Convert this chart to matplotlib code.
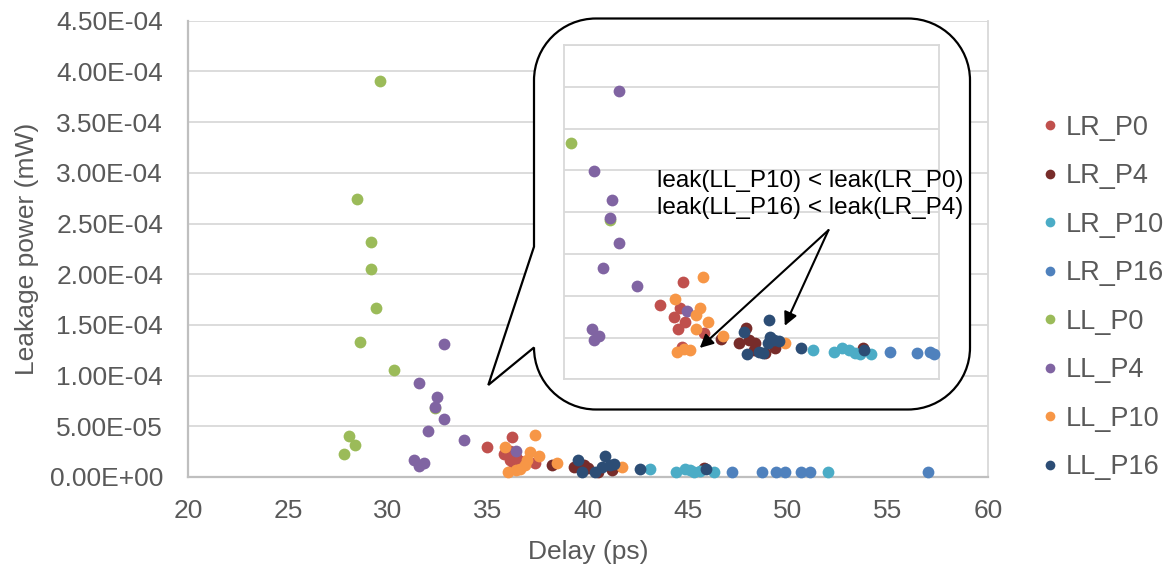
import numpy as np
import matplotlib as mpl
mpl.use('Agg')
from matplotlib import pyplot as plt
from matplotlib.path import Path
from matplotlib.patches import PathPatch
from matplotlib.lines import Line2D

plt.rcParams['font.family'] = ['Liberation Sans', 'DejaVu Sans']

series = ['LR_P0', 'LR_P4', 'LR_P10', 'LR_P16', 'LL_P0', 'LL_P4', 'LL_P10', 'LL_P16']
colors = ['#c0504d', '#772c2a', '#4bacc6', '#4f81bd', '#9bbb59', '#8064a2', '#f79646', '#2c4d75']

# main chart: delay (ps) / leakage power (mW)
lr_p0_x = [34.97, 36.2, 35.8, 36.1, 36.4, 36.3, 37.35, 36.6, 36.1]
lr_p0_y = [2.99e-5, 3.9e-5, 2.3e-5, 1.7e-5, 2.0e-5, 1.1e-5, 1.35e-5, 1.6e-5, 2.6e-5]
lr_p4_x = [38.2, 39.3, 39.8, 40.0, 40.5, 41.2, 41.3, 45.8]
lr_p4_y = [1.2e-5, 1.0e-5, 1.2e-5, 9e-6, 5e-6, 7e-6, 1.0e-5, 8.5e-6]
lr_p10_x = [43.1, 44.4, 44.85, 45.1, 45.3, 45.6, 46.3, 52.0]
lr_p10_y = [7.6e-6, 5.2e-6, 7.6e-6, 6.9e-6, 5.2e-6, 6.0e-6, 5.2e-6, 5.2e-6]
lr_p16_x = [47.2, 48.7, 49.4, 49.85, 50.65, 51.1, 57.0]
lr_p16_y = [5.2e-6, 5.2e-6, 5.2e-6, 5.2e-6, 5.2e-6, 5.2e-6, 5.2e-6]
ll_p0_x = [29.6, 28.47, 29.15, 29.15, 29.4, 28.6, 30.3, 32.35, 28.03, 28.37, 27.8]
ll_p0_y = [3.905e-4, 2.74e-4, 2.315e-4, 2.05e-4, 1.664e-4, 1.328e-4, 1.055e-4, 6.77e-5, 4.07e-5, 3.16e-5, 2.27e-5]
ll_p4_x = [32.8, 31.55, 32.45, 32.35, 32.8, 32.0, 33.8, 31.3, 31.8, 31.55, 36.4]
ll_p4_y = [1.309e-4, 9.24e-5, 7.92e-5, 6.93e-5, 5.69e-5, 4.54e-5, 3.65e-5, 1.68e-5, 1.41e-5, 1.11e-5, 2.56e-5]
ll_p10_x = [37.35, 35.85, 37.1, 37.57, 36.93, 36.85, 36.0, 36.4, 36.6, 38.47, 41.68]
ll_p10_y = [4.14e-5, 2.99e-5, 2.5e-5, 2.07e-5, 1.68e-5, 1.18e-5, 5.2e-6, 6.9e-6, 7.6e-6, 1.35e-5, 9.5e-6]
ll_p16_x = [39.5, 39.7, 40.35, 40.7, 40.85, 41.1, 41.3, 42.6, 45.9]
ll_p16_y = [1.7e-5, 5e-6, 5e-6, 1.0e-5, 2.1e-5, 1.2e-5, 1.3e-5, 7.6e-6, 7.6e-6]

# inset chart (no tick labels, read in its own grid units)
in_lr_p0_x = [9.52, 7.68, 9.28, 8.8, 9.68, 9.15, 11.2, 9.47]
in_lr_p0_y = [2.32, 1.79, 1.70, 1.48, 1.36, 1.20, 1.10, 0.78]
in_lr_p4_x = [12.6, 14.6, 14.05, 14.8, 15.33, 15.2, 16.13, 16.93, 23.95]
in_lr_p4_y = [0.97, 1.22, 0.88, 0.94, 0.86, 0.70, 0.62, 0.74, 0.74]
in_lr_p10_x = [19.92, 21.65, 22.27, 22.8, 23.33, 23.73, 24.61]
in_lr_p10_y = [0.70, 0.66, 0.76, 0.69, 0.64, 0.61, 0.60]
in_lr_p16_x = [26.08, 28.27, 29.28, 29.6]
in_lr_p16_y = [0.65, 0.64, 0.65, 0.60]
in_ll_p0_x = [0.59, 3.68]
in_ll_p0_y = [5.65, 3.81]
in_ll_p4_x = [4.4, 2.4, 3.87, 3.68, 4.4, 3.15, 5.87, 2.27, 2.8, 2.4, 9.87]
in_ll_p4_y = [6.91, 4.99, 4.29, 3.85, 3.25, 2.66, 2.23, 1.20, 1.04, 0.93, 1.64]
in_ll_p10_x = [11.15, 8.93, 10.93, 10.6, 11.52, 10.6, 12.75, 9.07, 9.6, 10.13, 17.73]
in_ll_p10_y = [2.44, 1.91, 1.70, 1.54, 1.36, 1.20, 1.04, 0.66, 0.72, 0.70, 0.88]
in_ll_p16_x = [16.43, 14.45, 16.53, 16.8, 17.2, 16.35, 14.67, 15.6, 15.95, 18.99, 24.05]
in_ll_p16_y = [1.42, 1.14, 1.02, 0.94, 0.92, 0.88, 0.60, 0.66, 0.64, 0.76, 0.70]

main_x = [lr_p0_x, lr_p4_x, lr_p10_x, lr_p16_x, ll_p0_x, ll_p4_x, ll_p10_x, ll_p16_x]
main_y = [lr_p0_y, lr_p4_y, lr_p10_y, lr_p16_y, ll_p0_y, ll_p4_y, ll_p10_y, ll_p16_y]
in_x = [in_lr_p0_x, in_lr_p4_x, in_lr_p10_x, in_lr_p16_x, in_ll_p0_x, in_ll_p4_x, in_ll_p10_x, in_ll_p16_x]
in_y = [in_lr_p0_y, in_lr_p4_y, in_lr_p10_y, in_lr_p16_y, in_ll_p0_y, in_ll_p4_y, in_ll_p10_y, in_ll_p16_y]

note = 'leak(LL_P10) < leak(LR_P0)\nleak(LL_P16) < leak(LR_P4)'

txt = '#595959'
W, H = 1172, 565
fig = plt.figure(figsize=(W / 100, H / 100), dpi=100)

ax = fig.add_axes([188 / W, 1 - 477 / H, 800 / W, (477 - 20.7) / H])
for i in range(len(series)):
    ax.scatter(main_x[i], main_y[i], s=72, color=colors[i], linewidths=0, zorder=3, clip_on=False)
ax.set_xlim(20, 60)
ax.set_ylim(0, 4.5e-4)
ax.set_xticks(np.arange(20, 61, 5))
ax.set_yticks(np.arange(0, 4.51e-4, 0.5e-4))
ax.set_yticklabels(['{:.2E}'.format(v) for v in np.arange(0, 4.51e-4, 0.5e-4)])
ax.yaxis.grid(True, color='#d9d9d9', lw=1.3)
ax.set_axisbelow(True)
ax.tick_params(length=0, labelsize=19, colors=txt)
ax.tick_params(axis='y', pad=18)
ax.tick_params(axis='x', pad=16)
for s in ['left', 'bottom']:
    ax.spines[s].set_color('#bfbfbf')
    ax.spines[s].set_linewidth(1.6)
ax.spines['right'].set_color('#d9d9d9')
ax.spines['right'].set_linewidth(1.3)
ax.spines['top'].set_visible(False)
ax.set_xlabel('Delay (ps)', fontsize=19, color=txt, labelpad=12)
ax.set_ylabel('Leakage power (mW)', fontsize=19, color=txt, labelpad=8)

# callout bubble in pixel coords (top-left origin)
L, R, T, B, r = 534, 970, 18.5, 409.5, 62
k = 0.5523 * r
verts = [(534, 246.7), (L, T + r),
         (L, T + r - k), (L + r - k, T), (L + r, T),
         (R - r, T),
         (R - r + k, T), (R, T + r - k), (R, T + r),
         (R, B - r),
         (R, B - r + k), (R - r + k, B), (R - r, B),
         (L + r, B),
         (L + r - k, B), (L, B - r + k), (L, B - r),
         (488.3, 385), (534, 246.7)]
codes = [Path.MOVETO, Path.LINETO,
         Path.CURVE4, Path.CURVE4, Path.CURVE4,
         Path.LINETO,
         Path.CURVE4, Path.CURVE4, Path.CURVE4,
         Path.LINETO,
         Path.CURVE4, Path.CURVE4, Path.CURVE4,
         Path.LINETO,
         Path.CURVE4, Path.CURVE4, Path.CURVE4,
         Path.LINETO, Path.CLOSEPOLY]
verts = [(x / W, 1 - y / H) for x, y in verts]
bubble = PathPatch(Path(verts, codes), facecolor='white', edgecolor='black', lw=1.6,
                   transform=fig.transFigure, zorder=1)
fig.patches.append(bubble)

# inset
ax_in = fig.add_axes([563.5 / W, 1 - 379.3 / H, 375 / W, (379.3 - 45) / H])
ax_in.set_zorder(2)
for i in range(len(series)):
    ax_in.scatter(in_x[i], in_y[i], s=72, color=colors[i], linewidths=0, zorder=3, clip_on=False)
ax_in.set_xlim(0, 30)
ax_in.set_ylim(0, 8)
ax_in.set_yticks(np.arange(0, 8.1, 1))
ax_in.set_xticks([])
ax_in.yaxis.grid(True, color='#d9d9d9', lw=1.3)
ax_in.set_axisbelow(True)
ax_in.tick_params(length=0, labelleft=False)
for s in ax_in.spines.values():
    s.set_color('#d9d9d9')
    s.set_linewidth(1.3)

ax_in.text(1.066, 0.554, note, transform=ax_in.transAxes, ha='right', va='center',
           fontsize=17.5, color='black', linespacing=1.3, zorder=5)
for tip in [(10.9, 0.75), (17.7, 1.28)]:
    ax_in.annotate('', xy=tip, xytext=(21.2, 3.57),
                   arrowprops=dict(arrowstyle='-|>', color='black', lw=1.5,
                                   mutation_scale=20, shrinkA=0, shrinkB=0))

handles = [Line2D([], [], ls='none', marker='o', markersize=7, color=c, markeredgewidth=0) for c in colors]
fig.legend(handles, series, loc='upper left', bbox_to_anchor=(1031 / W, 1 - 104 / H),
           frameon=False, fontsize=19.5, labelcolor=txt, labelspacing=0.83,
           handlelength=0.6, handletextpad=0.3, borderaxespad=0)

fig.savefig('out.png', dpi=100)
